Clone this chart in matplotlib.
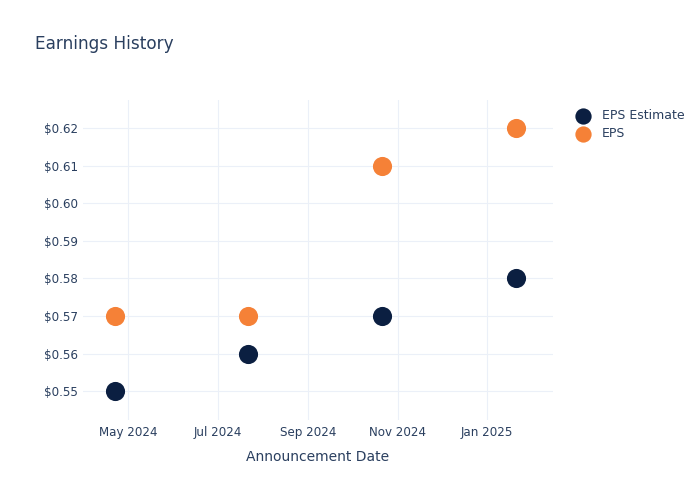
import pandas as pd
import matplotlib
matplotlib.use('Agg')
import matplotlib.pyplot as plt
import matplotlib.dates as mdates
from matplotlib.ticker import FuncFormatter

# data
dates = ['2024-04-22', '2024-07-22', '2024-10-21', '2025-01-21']
eps_estimate = [0.55, 0.56, 0.57, 0.58]
eps_actual = [0.57, 0.57, 0.61, 0.62]
tick_dates = ['2024-05-01', '2024-07-01', '2024-09-01', '2024-11-01', '2025-01-01']
tick_labels = ['May 2024', 'Jul 2024', 'Sep 2024', 'Nov 2024', 'Jan 2025']
y_ticks = [0.55, 0.56, 0.57, 0.58, 0.59, 0.60, 0.61, 0.62]

dates = pd.to_datetime(dates)
tick_dates = pd.to_datetime(tick_dates)

plt.rcParams['font.family'] = ['DejaVu Sans']
text_col = '#2a3f5f'
grid_col = '#ebf0f8'
navy = '#0b1f41'
orange = '#f58137'

fig = plt.figure(figsize=(7, 5), dpi=100)
ax = fig.add_axes([83 / 700, 80 / 500, 470 / 700, 320 / 500])

ax.scatter(dates, eps_estimate, s=190, color=navy, label='EPS Estimate', zorder=3, linewidths=0)
ax.scatter(dates, eps_actual, s=190, color=orange, label='EPS', zorder=3, linewidths=0)

ax.set_xlim(pd.Timestamp('2024-03-31'), pd.Timestamp('2025-02-15'))
ax.set_ylim(0.5423, 0.6275)

ax.set_xticks(tick_dates)
ax.set_xticklabels(tick_labels)
ax.set_yticks(y_ticks)
ax.yaxis.set_major_formatter(FuncFormatter(lambda v, p: f'${v:.2f}'))

for s in ax.spines.values():
    s.set_visible(False)
ax.grid(True, color=grid_col, linewidth=0.8)
ax.set_axisbelow(True)
ax.tick_params(length=0, colors=text_col, labelsize=8.6)
ax.tick_params(axis='x', pad=4)
ax.tick_params(axis='y', pad=3.5)

ax.set_xlabel('Announcement Date', color=text_col, fontsize=10, labelpad=8)

fig.text(35 / 700, 1 - 44 / 500, 'Earnings History', color=text_col, fontsize=12.2, va='center')

leg = fig.legend(loc='upper left', bbox_to_anchor=(569 / 700, 1 - 104 / 500), frameon=False,
                 fontsize=9, markerscale=0.85, handletextpad=0.75, labelspacing=0.4,
                 borderaxespad=0, handlelength=1.5)
for t in leg.get_texts():
    t.set_color(text_col)

plt.savefig('out.png', dpi=100)
